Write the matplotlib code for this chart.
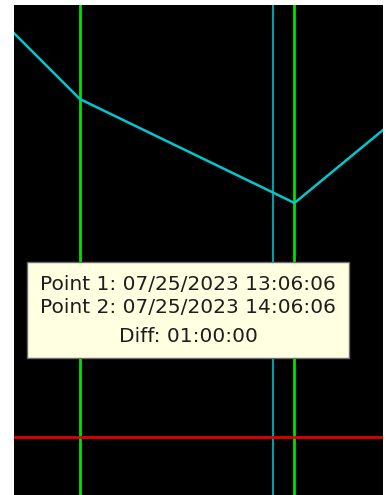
import matplotlib
matplotlib.use("Agg")
import matplotlib.pyplot as plt
from matplotlib.patches import Rectangle
from datetime import datetime

# hourly samples of the trace
times = ["07/25/2023 12:06:06", "07/25/2023 13:06:06",
         "07/25/2023 14:06:06", "07/25/2023 15:06:06"]
values = [124.6, 80.8, 59.6, 95.7]

# cursors and limit
point1 = "07/25/2023 13:06:06"
point2 = "07/25/2023 14:06:06"
cursor = "07/25/2023 14:00:05"
limit = 11.8
x_range = ["07/25/2023 12:47:40", "07/25/2023 14:30:51"]
y_range = [0, 100]

fmt = "%m/%d/%Y %H:%M:%S"
t = [datetime.strptime(s, fmt) for s in times]
p1 = datetime.strptime(point1, fmt)
p2 = datetime.strptime(point2, fmt)
cur = datetime.strptime(cursor, fmt)

W, H = 386, 495
fig = plt.figure(figsize=(W / 100, H / 100), dpi=100)
fig.patch.set_facecolor("white")
ax = fig.add_axes([14 / W, 0, 369 / W, 490 / H])
ax.set_facecolor("black")

ax.plot(t, values, color="#00C8CC", linewidth=1.8, zorder=3)
ax.axvline(p1, color="#00E000", linewidth=2, zorder=2)
ax.axvline(p2, color="#00E000", linewidth=2, zorder=2)
ax.axvline(cur, color="#009CA8", linewidth=1.5, zorder=1)
ax.axhline(limit, color="#E00000", linewidth=2, zorder=2)

ax.set_xlim(datetime.strptime(x_range[0], fmt), datetime.strptime(x_range[1], fmt))
ax.set_ylim(*y_range)
ax.set_xticks([])
ax.set_yticks([])
for sp in ax.spines.values():
    sp.set_visible(False)

# tooltip
diff = p2 - p1
h, rem = divmod(int(diff.total_seconds()), 3600)
m, s = divmod(rem, 60)
lines = ["Point 1: " + point1, "Point 2: " + point2, "Diff: %02d:%02d:%02d" % (h, m, s)]

box = Rectangle((27 / W, 1 - 358 / H), 322 / W, 96 / H, transform=fig.transFigure,
                facecolor="#FFFFE1", edgecolor="#6E6E6E", linewidth=1, zorder=5)
fig.patches.append(box)
for txt, yb in zip(lines, [290, 313, 342]):
    fig.text(188 / W, 1 - yb / H, txt, ha="center", va="baseline",
             fontsize=14.5, family="DejaVu Sans", color="#1E1E1E", zorder=6)

fig.savefig("out.png", dpi=100, facecolor="white")
